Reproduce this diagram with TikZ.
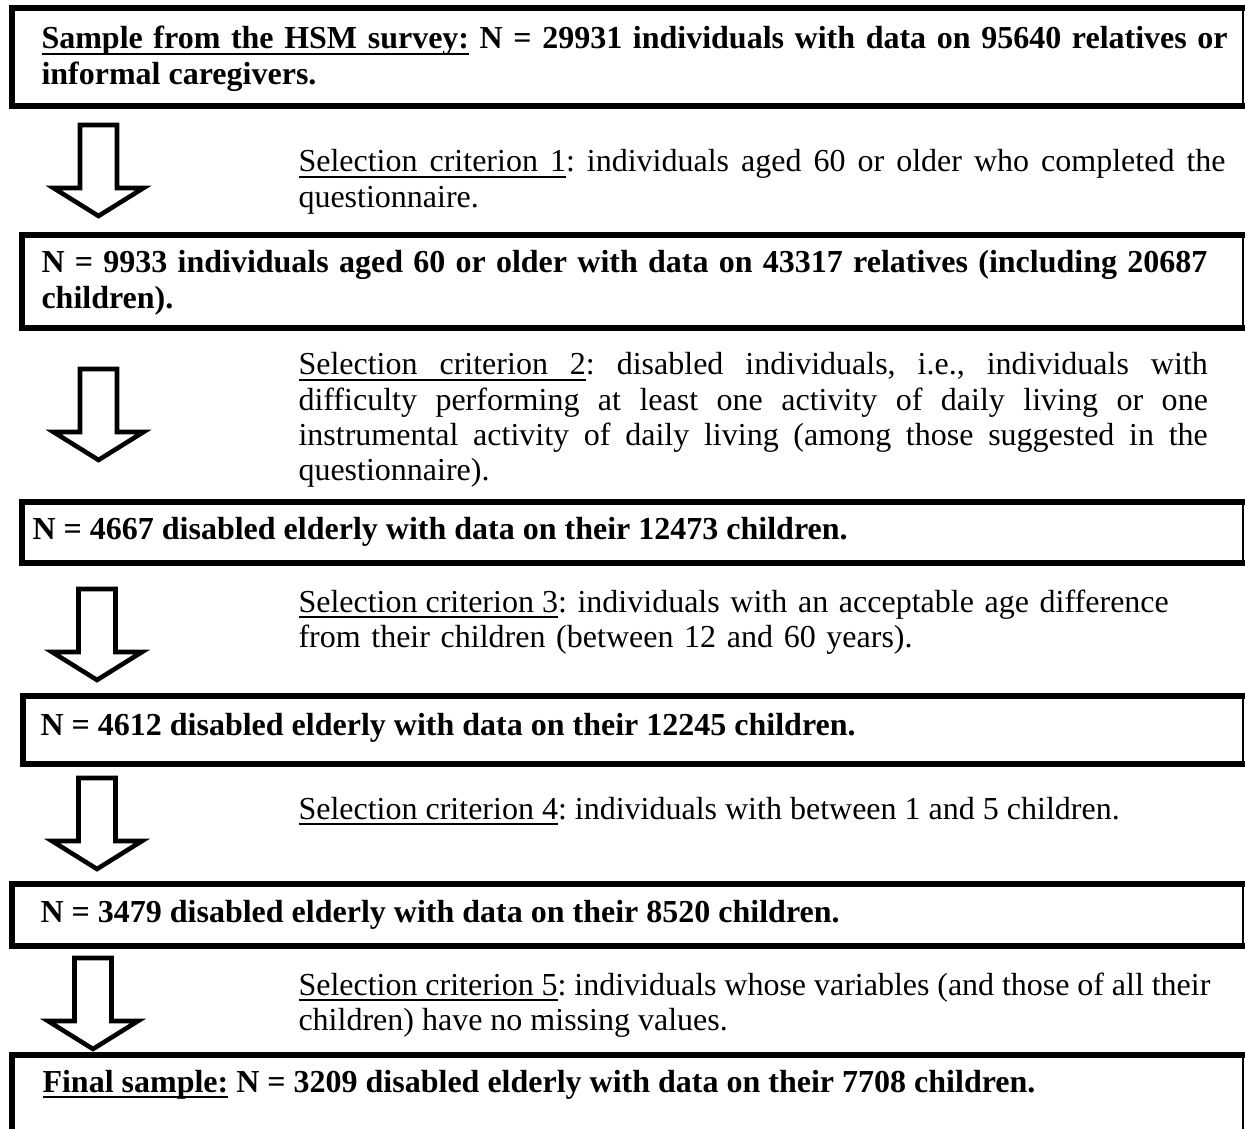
\documentclass[tikz,border=0pt]{standalone}
\usepackage{fontspec}
\setmainfont{Liberation Serif}
\frenchspacing
\hyphenpenalty=10000
\exhyphenpenalty=10000
\tolerance=9999
\newcommand\ulw[1]{\setbox0\hbox{#1}\rlap{\rule[-2.2pt]{\wd0}{0.6pt}}\box0\relax}
\newcommand\ulsp{\leaders\hrule height -1.6pt depth 2.2pt\hskip\fontdimen2\font plus\fontdimen3\font minus\fontdimen4\font\relax}
\begin{document}
\begin{tikzpicture}[x=0.3937pt,y=-0.3937pt,
  txt/.style={inner sep=0pt, anchor=base west,
    font=\fontsize{12.6pt}{13.8pt}\selectfont},
  jtxt/.style={txt, align=justify, text width=#1},
  boxthin/.style={line width=0.9pt},
  boxthick/.style={line width=2pt, line join=miter, line cap=rect},
  arrowline/.style={line width=1.8pt, line join=miter},
  blockarrow/.pic={\draw[arrowline] (-18.5,0) -- (-18.5,63) -- (-45,63) -- (0,91) -- (45,63) -- (18.5,63) -- (18.5,0) -- cycle;}
]
\useasboundingbox (0,0) rectangle (1245,1129);

% boxes
\foreach \L/\T/\B in {12/8/106, 22/235/328, 22/502/563, 23/696/764, 12/884/946, 12/1055/1160}{
  \draw[boxthin] (1243,\T) -- (1243,\B);
  \draw[boxthick] (1243,\T) -- (\L,\T) -- (\L,\B) -- (1243,\B);
}

% arrows
\pic at (98.5,125) {blockarrow};
\pic at (98.5,369) {blockarrow};
\pic at (97,589) {blockarrow};
\pic at (97,778) {blockarrow};
\pic at (93,958) {blockarrow};

% box texts
\node[jtxt=467pt] (b1) at (41,49) {\textbf{\ulw{Sample}\ulsp\ulw{from}\ulsp\ulw{the}\ulsp\ulw{HSM}\ulsp\ulw{survey:} N = 29931 individuals with data on 95640 relatives or informal caregivers.}};
\node[jtxt=459pt] (b2) at (41,273) {\textbf{N = 9933 individuals aged 60 or older with data on 43317 relatives (including 20687 children).}};
\node[txt] (b3) at (32,540) {\textbf{N = 4667 disabled elderly with data on their 12473 children.}};
\node[txt] (b4) at (40,735) {\textbf{N = 4612 disabled elderly with data on their 12245 children.}};
\node[txt] (b5) at (40,922) {\textbf{N = 3479 disabled elderly with data on their 8520 children.}};
\node[txt] (b6) at (42,1092) {\textbf{\ulw{Final}\ulsp\ulw{sample:} N = 3209 disabled elderly with data on their 7708 children.}};

% criteria
\node[jtxt=365pt] (c1) at (298,172) {\ulw{Selection}\ulsp\ulw{criterion}\ulsp\ulw{1}: individuals aged 60 or older who completed the questionnaire.};
\node[jtxt=358pt] (c2) at (298,375) {\ulw{Selection}\ulsp\ulw{criterion}\ulsp\ulw{2}: disabled individuals, i.e., individuals with difficulty performing at least one activity of daily living or one instrumental activity of daily living (among those suggested in the questionnaire).};
\node[txt, align=left, text width=380pt] (c3) at (298,612) {\ulw{Selection}\ulsp\ulw{criterion}\ulsp\ulw{3}: individuals with an acceptable age difference\\from their children (between 12 and 60 years).};
\node[txt] (c4) at (298,819) {\ulw{Selection}\ulsp\ulw{criterion}\ulsp\ulw{4}: individuals with between 1 and 5 children.};
\node[jtxt=359pt] (c5) at (298,995) {\ulw{Selection}\ulsp\ulw{criterion}\ulsp\ulw{5}: individuals whose variables (and those of all their children) have no missing values.};
\end{tikzpicture}
\end{document}
